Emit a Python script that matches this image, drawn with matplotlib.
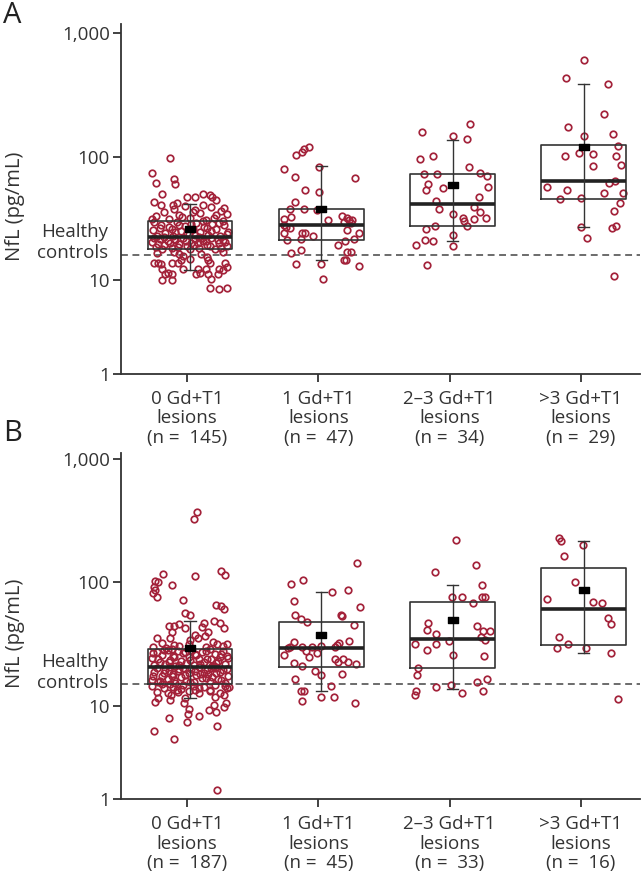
import numpy as np
import matplotlib
matplotlib.use("Agg")
import matplotlib.pyplot as plt
from matplotlib.path import Path
from matplotlib.transforms import blended_transform_factory

plt.rcParams['font.family'] = ['Open Sans', 'DejaVu Sans']

# ---------------- data ----------------
CATEGORIES = ["0 Gd+T1", "1 Gd+T1", "2\u20133 Gd+T1", ">3 Gd+T1"]
A_N = [145, 47, 34, 29]
B_N = [187, 45, 33, 16]
Y_TICKS = [1, 10, 100, 1000]
Y_TICKLABELS = ["1", "10", "100", "1,000"]

# healthy controls reference level
A_HEALTHY = 16.1
B_HEALTHY = 15.0

# box statistics
A_Q1 = [17.8, 21.1, 27.4, 45.3]
A_MED = [22.3, 28.2, 41.8, 63.4]
A_Q3 = [30.4, 37.7, 71.8, 123.3]
A_LO = [12.2, 14.7, 20.7, 27.0]
A_HI = [41.8, 83.8, 137.7, 389.0]
A_MEAN = [26.0, 37.6, 58.5, 119.0]

B_Q1 = [15.1, 20.8, 20.4, 31.0]
B_MED = [20.8, 29.5, 34.7, 60.7]
B_Q3 = [29.1, 47.6, 69.2, 131.8]
B_LO = [11.5, 13.1, 13.8, 26.7]
B_HI = [49.1, 83.4, 95.5, 217.0]
B_MEAN = [29.5, 37.6, 49.4, 86.5]

# individual values and horizontal jitter (panel A)
A1_VAL = [97, 74, 61, 66, 60, 50, 43, 47, 47, 50, 49, 47, 45, 41, 42,
          33, 36, 31.5, 38, 34, 40, 32, 37, 35, 31, 39, 33.5, 36.5, 34.5, 40.5, 36, 31.8, 32.5, 38.5, 31.2, 41,
          25.5, 23.0, 28.0, 24.2, 26.8, 22.9, 29.5, 25.0, 27.5, 23.6, 26.2, 29.0, 24.5, 27.0, 23.3, 28.5, 25.8, 22.7,
          27.8, 24.8, 29.8, 22.6, 26.0, 28.3, 24.0, 23.1, 30.0, 25.2, 29.3, 23.8, 26.5, 24.6, 28.8, 26.4, 30.2, 22.5,
          20.5, 18.5, 21.8, 19.2, 20.9, 18.2, 21.3, 19.8, 22.0, 18.9, 20.2, 21.6, 18.4, 20.7, 19.5, 21.9, 18.1, 20.1,
          21.1, 19.0, 22.1, 17.9, 20.0, 18.6, 21.0, 19.4, 22.2, 18.8, 21.4, 20.4, 19.6, 21.7, 17.9, 20.9, 18.3, 19.9,
          13.9, 13.9, 13.6, 12.3, 11.3, 11.5, 11.3, 10.0, 10.0, 13.9, 13.9, 14.5, 12.3, 12.3, 11.5, 11.3, 14.5, 13.9,
          12.3, 11.3, 10.2, 11.3, 12.3, 12.1, 13.9, 12.8, 8.2, 8.1, 8.3, 16.4, 15.8, 16.4, 15.4, 16.8, 16.9, 15.0, 17.0]
A1_JIT = [-0.15, -0.29, -0.26, -0.12, -0.11, -0.21, -0.27, -0.02, 0.04, 0.10, 0.15, 0.17, 0.20, -0.13, -0.10,
          -0.26, -0.20, -0.16, -0.12, -0.08, -0.04, 0.00, 0.04, 0.08, 0.12, 0.16, 0.20, 0.24, 0.28, -0.22, 0.02, 0.18, -0.06, 0.26, -0.29, 0.10,
          -0.28, -0.25, -0.22, -0.19, -0.16, -0.13, -0.10, -0.07, -0.04, -0.01, 0.02, 0.05, 0.08, 0.11, 0.14, 0.17, 0.20, 0.23,
          0.26, 0.29, -0.27, -0.20, -0.14, -0.08, -0.02, 0.04, 0.10, 0.16, 0.22, 0.28, -0.23, -0.11, 0.01, 0.13, 0.25, 0.07,
          -0.29, -0.26, -0.23, -0.20, -0.17, -0.14, -0.11, -0.08, -0.05, -0.02, 0.01, 0.04, 0.07, 0.10, 0.13, 0.16, 0.19, 0.22,
          0.25, 0.28, -0.27, -0.21, -0.15, -0.09, -0.03, 0.03, 0.09, 0.15, 0.21, 0.27, -0.24, -0.12, 0.00, 0.12, 0.24, 0.06,
          -0.27, -0.245, -0.22, -0.21, -0.19, -0.17, -0.135, -0.21, -0.135, -0.14, -0.09, -0.07, -0.055, 0.06, 0.08, 0.047, 0.135, 0.15,
          0.12, 0.14, 0.16, 0.21, 0.225, 0.25, 0.27, 0.28, 0.15, 0.22, 0.28, -0.08, -0.055, 0.085, 0.13, -0.25, 0.25, 0.0, -0.12]

A2_VAL = [104, 109, 115, 119, 79, 83, 68, 67, 54, 52, 43, 38, 38, 37, 31.6, 32.8, 31.0, 33.2, 31.9, 30.7, 30.6,
          29.6, 29.1, 27.9, 27.0, 26.7, 25.5, 24.3, 24.1, 24.1, 24.3, 23.0, 21.1, 21.8, 21.0, 21.8, 19.5, 17.7,
          16.6, 16.9, 17.0, 13.5, 13.6, 14.5, 13.1, 10.2, 14.7]
A2_JIT = [-0.194, -0.147, -0.133, -0.09, -0.28, -0.02, -0.20, 0.26, -0.12, -0.02, -0.20, -0.235, -0.13, -0.03, -0.285,
          -0.23, 0.055, 0.156, 0.194, 0.212, 0.232, 0.177, 0.227, -0.285, -0.27, -0.24, 0.196, 0.29, -0.28, -0.15, -0.12,
          -0.06, -0.26, -0.154, 0.18, 0.25, 0.126, -0.156, -0.23, 0.20, 0.23, -0.19, 0.0, 0.19, 0.285, 0.01, 0.17]

A3_VAL = [157, 184, 147, 138, 95.5, 102, 82, 71.8, 71.8, 74, 69.5, 59.6, 54.2, 56.3, 56.9, 47.3, 43.9, 37.6, 39,
          35.7, 34.7, 32.2, 31.6, 32.2, 30.1, 27.4, 26.2, 27.4, 23.1, 21.1, 20.7, 19.2, 19.0, 13.4]
A3_JIT = [-0.236, 0.132, 0.005, 0.109, -0.247, -0.148, 0.122, -0.219, -0.12, 0.208, 0.259, -0.19, -0.203, -0.074,
          0.271, 0.2, -0.125, -0.10, 0.165, 0.213, 0.005, 0.254, 0.16, 0.08, 0.086, 0.114, -0.20, -0.137, 0.0,
          -0.208, -0.152, -0.28, 0.0, -0.196]

A4_VAL = [604, 430, 389, 221, 174, 153, 146, 122, 102, 107, 106, 102, 84.3, 85.3, 56.9, 53.8, 45.3, 46.1, 60.9,
          63.4, 50.6, 50.6, 42.6, 36.4, 27.0, 26.5, 27.5, 22.0, 10.8]
A4_JIT = [0.005, -0.134, 0.186, 0.155, -0.117, 0.226, 0.0, 0.262, -0.145, -0.035, 0.07, 0.244, 0.07, 0.287, -0.284,
          -0.13, -0.183, -0.025, 0.193, 0.234, 0.155, 0.295, 0.272, 0.232, -0.018, 0.216, 0.247, 0.028, 0.232]

# individual values and horizontal jitter (panel B)
B1_VAL = [374, 325, 116, 103, 101, 92.5, 82.6, 86.9, 75.9, 94.8, 113, 124, 114, 72.6, 65.3, 64.5, 61, 56.4, 54.6,
          49.1, 47.2, 42.5, 44.7, 44.4, 45.9, 42.8, 46.7, 43.9, 40.0, 36.9, 40.0, 35.3, 35.7, 32.6, 37.6, 35.3, 33.2,
          31.8, 30.8, 31.2, 34.2, 30.0, 29.6, 30.5, 29.8, 31.5, 32.0,
          24.5, 21.3, 27.4, 22.8, 26.0, 21.9, 28.6, 23.5, 25.3, 21.1, 27.9, 23.0, 26.6, 22.2, 24.9, 28.2, 21.6, 25.7,
          23.8, 27.1, 22.5, 24.1, 28.9, 21.0, 26.3, 23.2, 25.0, 27.6, 22.0, 24.3, 26.9, 23.9, 28.4, 22.6, 24.7, 21.5,
          27.2, 23.4, 26.1, 21.8, 28.0, 24.0, 22.3, 26.4, 25.5, 29.0, 20.9,
          16.2, 18.9, 20.1, 15.8, 17.5, 19.6, 16.6, 20.5, 18.1, 15.4, 19.2, 17.0, 20.3, 16.0, 18.6, 19.9, 15.6, 17.8,
          20.6, 16.9, 18.4, 19.4, 15.9, 17.2, 20.2, 16.4, 18.8, 19.7, 15.3, 17.6, 17.3, 15.5, 18.3, 19.0, 16.3, 20.0,
          17.7, 15.7, 19.3, 18.0, 16.7, 20.4, 18.5, 16.1, 19.8, 17.4, 18.2,
          10.8, 11.5, 11.2, 12.3, 10.5, 11.5, 9.3, 8.2, 6.8, 7.4, 7.8, 9.1, 10.1, 8.5, 9.8, 10.5, 6.1, 5.4, 4.4, 1.27,
          13.1, 11.9, 12.3, 13.9, 14.3, 13.9, 13.5, 13.7, 13.5, 13.9,
          14.6, 13.0, 14.9, 12.6, 14.2, 12.9, 14.8, 13.3, 14.5, 12.7, 14.1, 13.4, 14.7, 12.8, 14.4, 15.0]
B1_JIT = [0.055, 0.03, -0.206, -0.263, -0.24, -0.275, -0.283, -0.263, -0.252, -0.136, 0.042, 0.24, 0.27, -0.052,
          0.2, 0.238, 0.258, -0.034, 0.004, 0.184, 0.232, 0.258, -0.156, -0.123, -0.085, -0.04, 0.106, 0.093, 0.139,
          0.118, -0.14, -0.148, -0.25, -0.21, 0.042, 0.062, 0.177, 0.207, 0.253, -0.123, 0.004,
          -0.28, -0.18, -0.08, 0.12, 0.28, -0.01,
          -0.29, -0.27, -0.25, -0.23, -0.21, -0.19, -0.17, -0.15, -0.13, -0.11, -0.09, -0.07, -0.05, -0.03, -0.01,
          0.01, 0.03, 0.05, 0.07, 0.09, 0.11, 0.13, 0.15, 0.17, 0.19, 0.21, 0.23, 0.25, 0.27, 0.29,
          -0.28, -0.24, -0.20, -0.16, -0.12, -0.08, -0.04, 0.00, 0.04, 0.08, 0.12, 0.16, 0.20, 0.24, 0.28, -0.14, 0.18,
          -0.29, -0.27, -0.25, -0.23, -0.21, -0.19, -0.17, -0.15, -0.13, -0.11, -0.09, -0.07, -0.05, -0.03, -0.01,
          0.01, 0.03, 0.05, 0.07, 0.09, 0.11, 0.13, 0.15, 0.17, 0.19, 0.21, 0.23, 0.25, 0.27, 0.29,
          -0.28, -0.24, -0.20, -0.16, -0.12, -0.08, -0.04, 0.00, 0.04, 0.08, 0.12, 0.16, 0.20, 0.24, 0.28, -0.14, 0.14,
          -0.263, -0.242, -0.148, -0.143, -0.046, -0.034, -0.004, -0.014, -0.021, -0.158, 0.072, 0.146, 0.182, 0.202,
          0.263, 0.276, 0.207, -0.27, -0.118, 0.207, 0.156, 0.194, 0.258, 0.283, 0.296, -0.2, -0.1, -0.07, 0.04, 0.07,
          -0.29, -0.25, -0.21, -0.17, -0.13, -0.09, -0.05, -0.01, 0.03, 0.07, 0.11, 0.15, 0.19, 0.23, 0.27, -0.15]

B2_VAL = [143, 97.3, 104, 83.8, 86.9, 71.3, 63.4, 54.6, 50.6, 47.9, 54.6, 53.2, 45.0, 33.6, 33.2, 30.2, 29.3, 25.9,
          30.2, 27.9, 30.2, 26.7, 30.8, 31.2, 32.2, 29.9, 23.9, 22.6, 24.0, 22.6, 21.8, 22.2, 21.1, 19.0, 17.8, 18.2,
          16.6, 14.5, 13.1, 13.2, 11.0, 11.7, 11.7, 10.5, 25.0]
B2_JIT = [0.273, -0.232, -0.141, 0.082, 0.207, -0.21, 0.293, -0.2, -0.151, -0.108, 0.154, 0.159, 0.248, 0.209,
          -0.204, -0.238, -0.253, -0.286, -0.146, -0.116, -0.072, -0.034, 0.0, 0.118, 0.133, 0.108, 0.103, 0.126,
          0.164, 0.202, 0.265, -0.204, -0.149, -0.044, 0.0, 0.156, -0.2, 0.075, -0.154, -0.128, -0.149, 0.0, 0.1,
          0.26, -0.09]

B3_VAL = [221, 122, 139, 95.5, 76.8, 76.8, 68.6, 76.5, 76.8, 46.7, 41.2, 38.0, 31.8, 31.6, 28.4, 33.8, 25.7, 44.7,
          40.7, 40.7, 36.4, 34.2, 25.4, 20.4, 17.8, 14.1, 13.1, 12.3, 12.8, 15.7, 16.6, 13.3, 14.8]
B3_JIT = [0.027, -0.136, 0.182, 0.228, -0.006, 0.07, 0.159, 0.228, 0.248, -0.184, -0.191, -0.123, -0.128, -0.286,
          -0.196, -0.024, 0.004, 0.19, 0.232, 0.289, 0.215, 0.248, 0.24, -0.265, -0.27, -0.128, -0.275, -0.288,
          0.072, 0.19, 0.266, 0.235, -0.01]

B4_VAL = [231, 217, 200, 163, 100, 73.5, 69.2, 67.9, 51.9, 45.9, 36.2, 31.8, 29.7, 29.7, 26.7, 11.3]
B4_JIT = [-0.189, -0.171, -0.006, -0.148, -0.067, -0.278, 0.07, 0.141, 0.187, 0.205, -0.189, -0.118, -0.202,
          0.014, 0.205, 0.258]

# ---------------- style ----------------
RED = "#a3223a"
DARK = "#333333"
K = 0.757  # compression of the decade below 10
FS = 13.5


def fwd(v):
    v = np.asarray(v, dtype=float)
    lv = np.log10(np.clip(v, 1e-6, None))
    return np.where(lv >= 1, lv, 1 - (1 - lv) * K)


def inv(t):
    t = np.asarray(t, dtype=float)
    return np.where(t >= 1, 10.0 ** t, 10.0 ** (1 - (1 - t) / K))


MEAN_MARKER = Path([(-1, -0.58), (1, -0.58), (1, 0.58), (-1, 0.58), (-1, -0.58)],
                   [Path.MOVETO, Path.LINETO, Path.LINETO, Path.LINETO, Path.CLOSEPOLY])

fig = plt.figure(figsize=(6.44, 8.74), dpi=100)
W, H = 644.0, 874.0


def make_panel(rect, letter, letter_y, vals, jits, q1, med, q3, lo, hi, mean, healthy, ns, ytop):
    ax = fig.add_axes(rect)
    ax.set_yscale('function', functions=(fwd, inv))
    pos = np.arange(1, 5) + 0.022
    for i in range(4):
        x = pos[i] + np.asarray(jits[i])
        ax.plot(x, vals[i], ls='none', marker='o', ms=4.7, mfc='none', mec=RED, mew=1.25, zorder=2)
    stats = [dict(med=med[i], q1=q1[i], q3=q3[i], whislo=lo[i], whishi=hi[i], fliers=[]) for i in range(4)]
    ax.bxp(stats, positions=pos, widths=0.645, showfliers=False, capwidths=0.085, manage_ticks=False,
           boxprops=dict(color=DARK, lw=1.2), medianprops=dict(color='#222222', lw=2.6),
           whiskerprops=dict(color=DARK, lw=1.0), capprops=dict(color=DARK, lw=1.0))
    ax.vlines(pos, q1, q3, color=DARK, lw=1.0, zorder=3)
    ax.plot(pos, mean, ls='none', marker=MEAN_MARKER, ms=7.8, color='black', zorder=5)
    ax.axhline(healthy, color='#444444', lw=1.1, dashes=(4.5, 3.0), zorder=1)

    ax.set_xlim(0.497, 4.45)
    ax.set_ylim(1, ytop)
    ax.set_yticks(Y_TICKS)
    ax.set_yticklabels(Y_TICKLABELS)
    ax.yaxis.set_minor_locator(matplotlib.ticker.NullLocator())
    ax.set_xticks(np.arange(1, 5))
    ax.set_xticklabels([f"{c}\nlesions\n(n =  {n})" for c, n in zip(CATEGORIES, ns)],
                       linespacing=1.1)
    for s in ['top', 'right']:
        ax.spines[s].set_visible(False)
    for s in ['left', 'bottom']:
        ax.spines[s].set_color(DARK)
        ax.spines[s].set_linewidth(1.3)
    ax.tick_params(axis='both', direction='out', width=1.3, color=DARK,
                   labelsize=FS, labelcolor='#333333')
    ax.tick_params(axis='x', length=5.5, pad=6)
    ax.tick_params(axis='y', length=6, pad=2)

    tr = blended_transform_factory(ax.transAxes, ax.transData)
    ax.annotate("Healthy\ncontrols", xy=(0, healthy), xycoords=tr, xytext=(-13, 12),
                textcoords='offset pixels', ha='right', va='center', multialignment='right',
                fontsize=FS, color='#333333', linespacing=1.22)

    bb = ax.get_position()
    fig.text(15 / W, bb.y0 + 0.48 * bb.height, "NfL (pg/mL)", rotation=90, ha='center', va='center',
             fontsize=14.5, color='#333333')
    fig.text(3 / W, letter_y, letter, ha='left', va='top', fontsize=21, color='#222222')
    return ax


left = 121 / W
width = (640 - 121) / W

make_panel([left, 1 - 374 / H, width, 350 / H], "A", 1 - 1 / H,
           [A1_VAL, A2_VAL, A3_VAL, A4_VAL], [A1_JIT, A2_JIT, A3_JIT, A4_JIT],
           A_Q1, A_MED, A_Q3, A_LO, A_HI, A_MEAN, A_HEALTHY, A_N, 1183)
make_panel([left, 1 - 799.3 / H, width, 346 / H], "B", 1 - 419 / H,
           [B1_VAL, B2_VAL, B3_VAL, B4_VAL], [B1_JIT, B2_JIT, B3_JIT, B4_JIT],
           B_Q1, B_MED, B_Q3, B_LO, B_HI, B_MEAN, B_HEALTHY, B_N, 1112)

fig.savefig("out.png", dpi=100)
